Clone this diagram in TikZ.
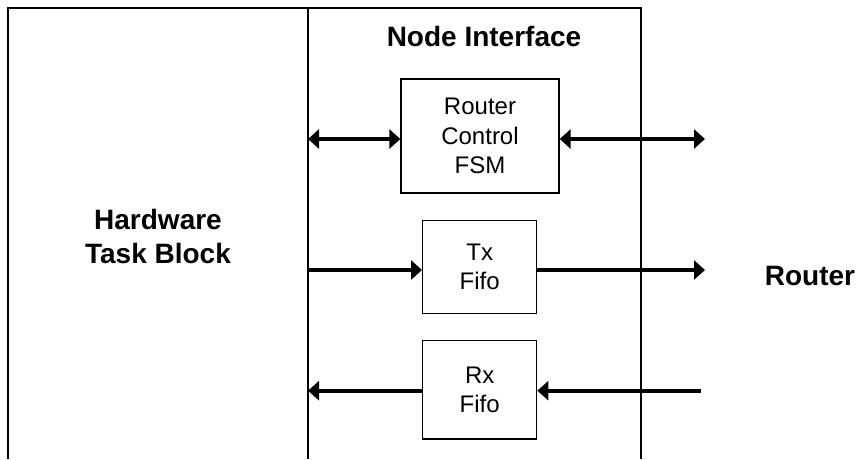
\documentclass[tikz,border=0pt]{standalone}
\usepackage{fontspec}
\setmainfont{Liberation Sans}
\usetikzlibrary{arrows.meta}

\begin{document}
\begin{tikzpicture}[x=1pt,y=-1pt,
    frame/.style={line width=1.3pt},
    blk/.style={draw,line width=1.3pt,inner sep=0pt,align=center,
      font=\fontsize{24}{29.5}\selectfont},
    lbl/.style={inner sep=0pt,align=center,font=\fontsize{28}{34}\selectfont\bfseries},
    sig/.style={line width=4.2pt,-{Triangle[length=11pt,width=19pt]}},
    bisig/.style={line width=4.2pt,{Triangle[length=11pt,width=19pt]}-{Triangle[length=11pt,width=19pt]}}]
    \useasboundingbox (0,0) rectangle (860,459);
    \draw[frame] (8,459) -- (8,8) -- (641,8) -- (641,459); %Frame
    \draw[frame] (308,8) -- (308,459);
    %
    \node[lbl] (hwlbl) at (158,236) {Hardware\\Task Block};
    \node[lbl] (nilbl) at (484,36.5) {Node Interface};
    \node[lbl] (rtlbl) at (810,276) {Router};
    %
    \node[blk,minimum width=158pt,minimum height=114pt] (fsm) at (480,136) {Router\\Control\\FSM};
    \node[blk,minimum width=114pt,minimum height=92.6pt] (tx) at (479.7,267) {Tx\\Fifo};
    \node[blk,minimum width=114pt,minimum height=98.3pt] (rx) at (479.7,389.9) {Rx\\Fifo};
    %
    \coordinate (fsmin) at (308,139);
    \coordinate (fsmout) at (705,139);
    \coordinate (txin) at (308,270);
    \coordinate (txout) at (705,270);
    \coordinate (rxout) at (308,390.7);
    \coordinate (rxin) at (701,390.7);
    %
    \draw[bisig] (fsmin) -- (fsmin -| fsm.west);
    \draw[bisig] (fsmout -| fsm.east) -- (fsmout);
    \draw[sig] (txin) -- (txin -| tx.west);
    \draw[sig] (txout -| tx.east) -- (txout);
    \draw[sig] (rxout -| rx.west) -- (rxout);
    \draw[sig] (rxin) -- (rxin -| rx.east);
\end{tikzpicture}
\end{document}
